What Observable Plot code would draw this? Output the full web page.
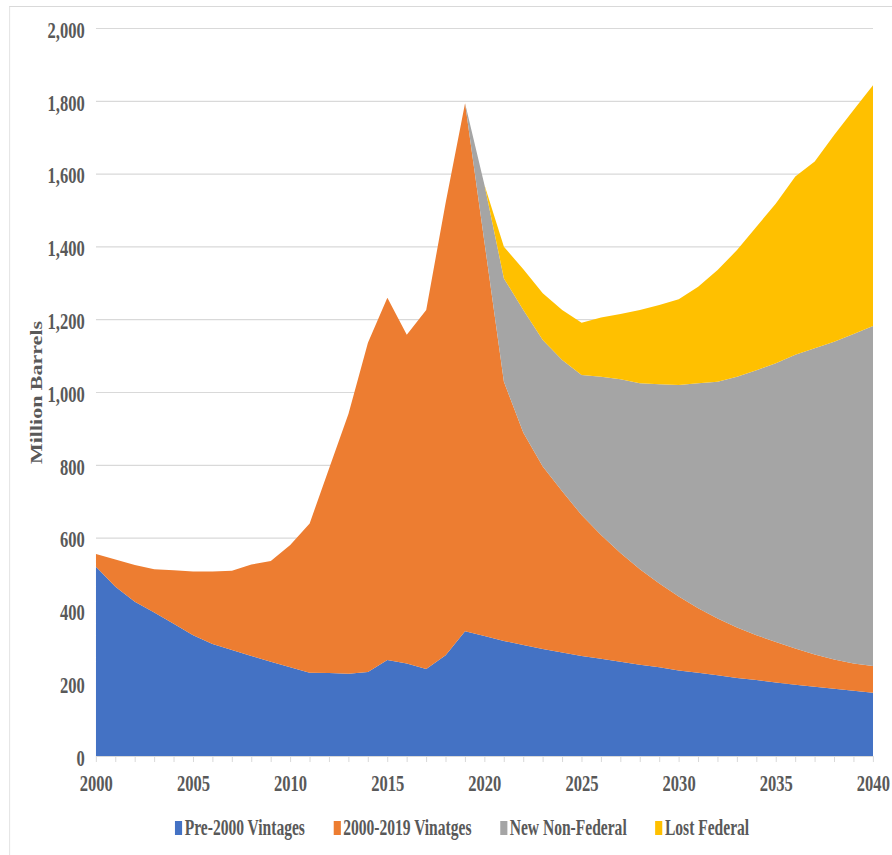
<!DOCTYPE html>
<html>
<head>
<meta charset="utf-8">
<script src="https://cdn.jsdelivr.net/npm/d3@7"></script>
<script src="https://cdn.jsdelivr.net/npm/@observablehq/plot@0.6"></script>
<style>
html, body { margin: 0; padding: 0; background: #fff; overflow: hidden; }
#wrap { position: relative; width: 1239px; height: 855px; transform: scaleX(0.72); transform-origin: 0 0;
  font-family: "Liberation Serif", "Times New Roman", serif; font-weight: bold; color: #595959; }
#frame { position: absolute; left: 12.5px; top: 5.5px; width: 3000px; height: 3000px;
  border-left: 1.4px solid #d9d9d9; border-top: 1px solid #d9d9d9; }
#chart { position: absolute; left: 0; top: 0; }
#legend { position: absolute; left: 243px; top: 815px; display: flex; font-size: 24px; line-height: 24px; white-space: nowrap;
  transform: scaleX(0.9); transform-origin: 0 0; }
.item { display: flex; align-items: center; margin-right: 44px; }
.sw { width: 11px; height: 14px; margin-right: 4px; margin-top: 2px; }
</style>
</head>
<body>
<div id="wrap">
  <div id="frame"></div>
  <div id="chart"></div>
  <div id="legend"></div>
</div>
<script>
// ---- Data (million barrels) ----
const years = [2000,2001,2002,2003,2004,2005,2006,2007,2008,2009,
               2010,2011,2012,2013,2014,2015,2016,2017,2018,2019,
               2020,2021,2022,2023,2024,2025,2026,2027,2028,2029,
               2030,2031,2032,2033,2034,2035,2036,2037,2038,2039,2040];

const pre2000Vintages = [520,465,424,394,363,332,308,291,275,259,
                         244,229,228,226,231,264,254,239,277,343,
                         330,316,305,294,284,275,267,259,251,244,
                         235,229,222,214,209,202,196,190,185,179,174];

const vintages2000_2019 = [35,75,101,119,147,175,199,218,251,277,
                           336,410,562,714,904,995,903,986,1243,1450,
                           1081,712,583,501,443,387,340,299,262,230,
                           203,177,156,139,123,111,99,89,80,75,73];

const newNonFederal = [null,null,null,null,null,null,null,null,null,null,
                       null,null,null,null,null,null,null,null,null,0,
                       158,284,337,348,361,385,435,477,511,547,
                       581,618,650,689,728,766,807,841,873,905,934];

const lostFederal = [null,null,null,null,null,null,null,null,null,null,
                     null,null,null,null,null,null,null,null,null,null,
                     0,87,112,128,137,143,163,179,201,218,
                     236,265,307,348,394,439,490,513,568,616,662];

const seriesNames = ["Pre-2000 Vintages", "2000-2019 Vinatges", "New Non-Federal", "Lost Federal"];
const seriesColors = ["#4472C4", "#ED7D31", "#A5A5A5", "#FFC000"];
const seriesValues = [pre2000Vintages, vintages2000_2019, newNonFederal, lostFederal];

const yTicks = [0,200,400,600,800,1000,1200,1400,1600,1800,2000];
const xLabelTicks = [2000,2005,2010,2015,2020,2025,2030,2035,2040];
const yLabel = "Million Barrels";

// ---- Long table for stacking ----
const rows = [];
years.forEach((yr, i) => {
  seriesValues.forEach((vals, s) => {
    if (vals[i] != null) rows.push({year: yr, series: seriesNames[s], value: vals[i]});
  });
});

const chart = Plot.plot({
  width: 1239,
  height: 800,
  marginLeft: 133.3,
  marginRight: 26.5,
  marginTop: 28,
  marginBottom: 44,
  style: {fontFamily: "Liberation Serif, Times New Roman, serif", fontWeight: "bold", fontSize: "23px", color: "#595959", background: "transparent", overflow: "visible"},
  x: {domain: [2000, 2040]},
  y: {domain: [0, 2000]},
  color: {domain: seriesNames, range: seriesColors},
  marks: [
    Plot.gridY(yTicks, {stroke: "#d9d9d9", strokeOpacity: 1, strokeWidth: 1.2}),
    Plot.areaY(rows, {x: "year", y: "value", fill: "series"}),
    Plot.ruleY([0], {stroke: "#d9d9d9", strokeWidth: 1.2}),
    Plot.axisX(years, {tickSize: 6, tickFormat: () => "", stroke: "#d9d9d9", strokeWidth: 1.4, label: null}),
    Plot.axisX(xLabelTicks, {tickSize: 0, tickPadding: 18.5, tickFormat: "d", label: null, fill: "#595959", fontSize: 23}),
    Plot.axisY(yTicks, {tickSize: 0, tickPadding: 16, dy: 2, tickFormat: d3.format(","), label: null, fill: "#595959", fontSize: 23}),
    Plot.text([yLabel], {text: d => d, frameAnchor: "left", textAnchor: "middle", lineAnchor: "middle", rotate: -90, dx: -83, fontSize: 22, fontWeight: "bold", fill: "#595959"})
  ]
});
document.getElementById("chart").appendChild(chart);

// ---- Legend ----
const legend = document.getElementById("legend");
seriesNames.forEach((name, i) => {
  const item = document.createElement("div");
  item.className = "item";
  const sw = document.createElement("span");
  sw.className = "sw";
  sw.style.background = seriesColors[i];
  const label = document.createElement("span");
  label.textContent = name;
  item.appendChild(sw);
  item.appendChild(label);
  legend.appendChild(item);
});
</script>
</body>
</html>
